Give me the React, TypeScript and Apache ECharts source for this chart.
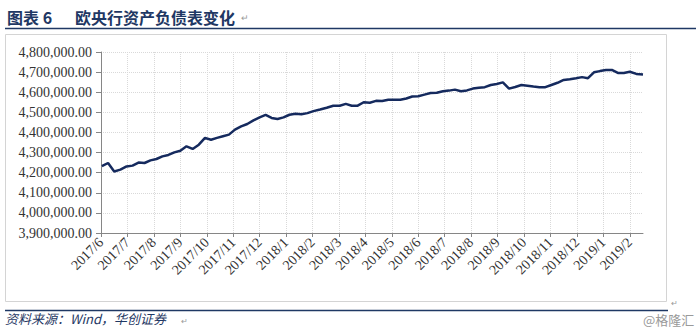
import React, { useEffect, useRef } from "react";
import * as echarts from "echarts";

// Weekly dates (ECB weekly financial statements)
const dates: string[] = [
  "2017-06-02", "2017-06-09", "2017-06-16", "2017-06-23", "2017-06-30",
  "2017-07-07", "2017-07-14", "2017-07-21", "2017-07-28",
  "2017-08-04", "2017-08-11", "2017-08-18", "2017-08-25",
  "2017-09-01", "2017-09-08", "2017-09-15", "2017-09-22", "2017-09-29",
  "2017-10-06", "2017-10-13", "2017-10-20", "2017-10-27",
  "2017-11-03", "2017-11-10", "2017-11-17", "2017-11-24",
  "2017-12-01", "2017-12-08", "2017-12-15", "2017-12-22", "2017-12-29",
  "2018-01-05", "2018-01-12", "2018-01-19", "2018-01-26",
  "2018-02-02", "2018-02-09", "2018-02-16", "2018-02-23",
  "2018-03-02", "2018-03-09", "2018-03-16", "2018-03-23", "2018-03-30",
  "2018-04-06", "2018-04-13", "2018-04-20", "2018-04-27",
  "2018-05-04", "2018-05-11", "2018-05-18", "2018-05-25",
  "2018-06-01", "2018-06-08", "2018-06-15", "2018-06-22", "2018-06-29",
  "2018-07-06", "2018-07-13", "2018-07-20", "2018-07-27",
  "2018-08-03", "2018-08-10", "2018-08-17", "2018-08-24", "2018-08-31",
  "2018-09-07", "2018-09-14", "2018-09-21", "2018-09-28",
  "2018-10-05", "2018-10-12", "2018-10-19", "2018-10-26",
  "2018-11-02", "2018-11-09", "2018-11-16", "2018-11-23", "2018-11-30",
  "2018-12-07", "2018-12-14", "2018-12-21", "2018-12-28",
  "2019-01-04", "2019-01-11", "2019-01-18", "2019-01-25",
  "2019-02-01", "2019-02-08", "2019-02-15",
];

// Total assets (EUR mn)
const totalAssets: number[] = [
  4232000, 4248000, 4206000, 4215000, 4231000,
  4235000, 4250000, 4248000, 4261000,
  4268000, 4281000, 4288000, 4301000,
  4309000, 4331000, 4318000, 4339000, 4373000,
  4364000, 4373000, 4381000, 4389000,
  4414000, 4430000, 4442000, 4460000,
  4475000, 4487000, 4472000, 4467000, 4475000,
  4488000, 4493000, 4490000, 4496000,
  4506000, 4514000, 4523000, 4533000,
  4533000, 4542000, 4533000, 4533000, 4550000,
  4548000, 4557000, 4556000, 4563000,
  4563000, 4563000, 4569000, 4579000,
  4580000, 4588000, 4596000, 4597000, 4605000,
  4608000, 4613000, 4605000, 4609000,
  4618000, 4622000, 4625000, 4636000, 4641000,
  4649000, 4618000, 4626000, 4636000,
  4632000, 4628000, 4625000, 4625000,
  4636000, 4647000, 4661000, 4665000, 4670000,
  4675000, 4670000, 4699000, 4705000,
  4710000, 4711000, 4696000, 4696000,
  4702000, 4691000, 4688000,
];

// Month tick labels
const monthLabels: string[] = [
  "2017/6", "2017/7", "2017/8", "2017/9", "2017/10", "2017/11", "2017/12",
  "2018/1", "2018/2", "2018/3", "2018/4", "2018/5", "2018/6", "2018/7",
  "2018/8", "2018/9", "2018/10", "2018/11", "2018/12", "2019/1", "2019/2",
];

const yMin = 3900000;
const yMax = 4800000;
const yStep = 100000;

const startYear = 2017;
const startMonth = 6;

function monthPos(d: string): number {
  const [y, m, day] = d.split("-").map(Number);
  const dim = new Date(y, m, 0).getDate();
  return (y - startYear) * 12 + (m - startMonth) + (day - 1) / dim;
}

function fmtNum(v: number): string {
  return v.toLocaleString("en-US", { minimumFractionDigits: 2, maximumFractionDigits: 2 });
}

export default function App() {
  const ref = useRef<HTMLDivElement>(null);
  useEffect(() => {
    if (!ref.current) return;
    const chart = echarts.init(ref.current, null, { renderer: "svg" });
    const seriesData = dates.map((d, i) => [monthPos(d), totalAssets[i]]);
    const navy = "#1F3864";
    const axisFont = "'Liberation Serif', 'DejaVu Serif', serif";
    const cjk = "'Noto Sans CJK SC', sans-serif";
    chart.setOption({
      animation: false,
      backgroundColor: "#ffffff",
      grid: { left: 101, right: 53, top: 52, bottom: 102, containLabel: false },
      xAxis: {
        type: "value",
        min: 0,
        max: monthLabels.length - 0.5,
        interval: 1,
        axisLine: { show: true, onZero: false, lineStyle: { color: "#868686", width: 1 } },
        axisTick: { show: true, length: 4, lineStyle: { color: "#868686" } },
        axisLabel: {
          rotate: 45,
          margin: 7,
          color: "#333333",
          fontFamily: axisFont,
          fontSize: 14,
          showMaxLabel: false,
          formatter: (v: number) => {
            const i = Math.round(v);
            return Math.abs(v - i) < 1e-6 && monthLabels[i] ? monthLabels[i] : "";
          },
        },
        splitLine: {
          show: true,
          showMaxLine: false,
          lineStyle: { color: "#D9D9D9", type: "dotted", width: 1 },
        },
      },
      yAxis: {
        type: "value",
        min: yMin,
        max: yMax,
        interval: yStep,
        axisLine: { show: true, lineStyle: { color: "#868686", width: 1 } },
        axisTick: { show: true, length: 5, lineStyle: { color: "#868686" } },
        axisLabel: {
          margin: 9,
          color: "#333333",
          fontFamily: axisFont,
          fontSize: 14,
          formatter: (v: number) => fmtNum(v),
        },
        splitLine: { show: true, lineStyle: { color: "#D9D9D9", type: "dotted", width: 1 } },
      },
      series: [
        {
          type: "line",
          data: seriesData,
          showSymbol: false,
          symbol: "none",
          smooth: false,
          lineStyle: { color: "#152A5E", width: 2.5 },
          z: 3,
        },
      ],
      graphic: [
        {
          type: "text",
          left: 7,
          top: 9,
          style: { text: "图表 6", font: `bold 16px ${cjk}`, fill: navy },
        },
        {
          type: "text",
          left: 75,
          top: 9,
          style: { text: "欧央行资产负债表变化", font: `bold 16px ${cjk}`, fill: navy },
        },
        {
          type: "text",
          left: 241,
          top: 13,
          style: { text: "↵", font: `9px ${cjk}`, fill: "#999999" },
        },
        {
          type: "line",
          shape: { x1: 5, y1: 28.5, x2: 696, y2: 28.5 },
          style: { stroke: navy, lineWidth: 1.5 },
        },
        {
          type: "rect",
          shape: { x: 5.5, y: 34.5, width: 661, height: 267 },
          style: { stroke: "#D4D4D4", fill: "none", lineWidth: 1 },
          z: -1,
        },
        {
          type: "text",
          left: 671,
          top: 298,
          style: { text: "↵", font: `8px ${cjk}`, fill: "#999999" },
        },
        {
          type: "line",
          shape: { x1: 5, y1: 310.5, x2: 668, y2: 310.5 },
          style: { stroke: navy, lineWidth: 1.5 },
        },
        {
          type: "text",
          left: 5,
          top: 312,
          style: { text: "资料来源：Wind，华创证券", font: `italic 13px ${cjk}`, fill: navy },
        },
        {
          type: "text",
          left: 181,
          top: 316,
          style: { text: "↵", font: `8px ${cjk}`, fill: "#999999" },
        },
        {
          type: "text",
          left: 643,
          top: 313,
          style: { text: "@格隆汇", font: `13px ${cjk}`, fill: "#9A9A9A" },
        },
      ],
    });
    return () => chart.dispose();
  }, []);
  return (
    <div
      ref={ref}
      style={{ position: "fixed", left: 0, top: 0, width: 696, height: 335 }}
    />
  );
}
